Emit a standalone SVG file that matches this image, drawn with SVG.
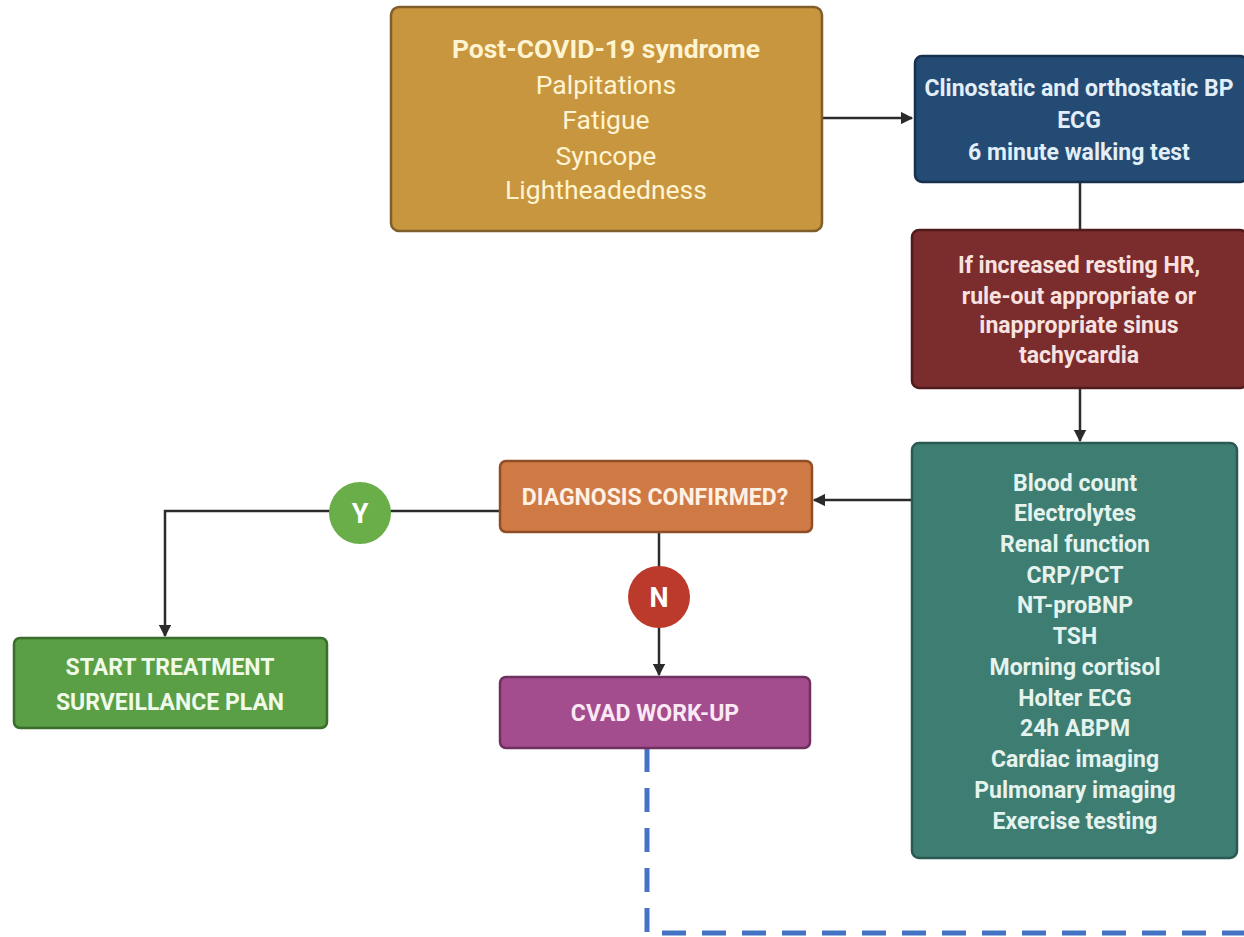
<svg xmlns="http://www.w3.org/2000/svg" width="1244" height="937" viewBox="0 0 1244 937">
<defs>
<marker id="ah" viewBox="0 0 10 10" refX="9" refY="5" markerWidth="5" markerHeight="5" orient="auto" markerUnits="strokeWidth">
<path d="M0,0 L10,5 L0,10 z" fill="#2b2b2b"/>
</marker>
<style>
.box{stroke-width:2.5}
.t{font-family:Roboto,"Liberation Sans",sans-serif;text-anchor:middle}
.b{font-weight:bold}
.conn{fill:none;stroke:#2b2b2b;stroke-width:2.5}
</style>
</defs>
<rect width="1244" height="937" fill="#ffffff"/>
<g id="connectors">
<path class="conn" d="M822,118 H912" marker-end="url(#ah)"/>
<path class="conn" d="M1080,182 V230"/>
<path class="conn" d="M1080,388 V441" marker-end="url(#ah)"/>
<path class="conn" d="M912,500 H814" marker-end="url(#ah)"/>
<path class="conn" d="M499,511 H165 V636" marker-end="url(#ah)"/>
<path class="conn" d="M659,532 V675" marker-end="url(#ah)"/>
<path d="M647,748 V933 H1244" fill="none" stroke="#4472C4" stroke-width="5" stroke-dasharray="24 16"/>
</g>
<g id="n-syndrome">
<rect class="box" x="391" y="7" width="431" height="224" rx="8" fill="#C8963E" stroke="#7E5F2C"/>
<text class="t" fill="#FFF4D2" font-size="26.5"><tspan class="b" x="606" y="57.5">Post-COVID-19 syndrome</tspan><tspan x="606" y="93.5">Palpitations</tspan><tspan x="606" y="128.5">Fatigue</tspan><tspan x="606" y="164.5">Syncope</tspan><tspan x="606" y="198.5">Lightheadedness</tspan></text>
</g>
<g id="n-tests">
<rect class="box" x="915" y="56" width="332" height="126" rx="7" fill="#244B74" stroke="#16304D"/>
<text class="t b" fill="#E2EEF8" font-size="23"><tspan x="1079" y="96">Clinostatic and orthostatic BP</tspan><tspan x="1079" y="128">ECG</tspan><tspan x="1079" y="160">6 minute walking test</tspan></text>
</g>
<g id="n-hr">
<rect class="box" x="912" y="230" width="335" height="158" rx="7" fill="#7B2C2C" stroke="#521B1B"/>
<text class="t b" fill="#F8E2E0" font-size="23"><tspan x="1079" y="273">If increased resting HR,</tspan><tspan x="1079" y="304">rule-out appropriate or</tspan><tspan x="1079" y="333">inappropriate sinus</tspan><tspan x="1079" y="363">tachycardia</tspan></text>
</g>
<g id="n-labs">
<rect class="box" x="912" y="443" width="325" height="415" rx="7" fill="#3E7D72" stroke="#2A5A51"/>
<text class="t b" fill="#E4F3EE" font-size="23"><tspan x="1075" y="490.5">Blood count</tspan><tspan x="1075" y="521">Electrolytes</tspan><tspan x="1075" y="552">Renal function</tspan><tspan x="1075" y="582.5">CRP/PCT</tspan><tspan x="1075" y="613">NT-proBNP</tspan><tspan x="1075" y="644">TSH</tspan><tspan x="1075" y="675">Morning cortisol</tspan><tspan x="1075" y="705.5">Holter ECG</tspan><tspan x="1075" y="736">24h ABPM</tspan><tspan x="1075" y="767">Cardiac imaging</tspan><tspan x="1075" y="797.5">Pulmonary imaging</tspan><tspan x="1075" y="828.5">Exercise testing</tspan></text>
</g>
<g id="n-diagnosis">
<rect class="box" x="500" y="461" width="312" height="71" rx="6" fill="#CF7A45" stroke="#8F4E25"/>
<text class="t b" x="655" y="505" fill="#FFF0E4" font-size="23">DIAGNOSIS CONFIRMED?</text>
</g>
<g id="n-yes">
<circle cx="360" cy="513" r="31" fill="#6AAE4A"/>
<text class="t b" x="360" y="523" fill="#FFFFFF" font-size="27">Y</text>
</g>
<g id="n-no">
<circle cx="659" cy="597" r="31" fill="#BC3A2C"/>
<text class="t b" x="659" y="607" fill="#FFFFFF" font-size="27">N</text>
</g>
<g id="n-treatment">
<rect class="box" x="14" y="638" width="313" height="90" rx="6" fill="#5A9E45" stroke="#3A6E2A"/>
<text class="t b" fill="#F0FAE8" font-size="23"><tspan x="170" y="675">START TREATMENT</tspan><tspan x="170" y="710">SURVEILLANCE PLAN</tspan></text>
</g>
<g id="n-cvad">
<rect class="box" x="500" y="677" width="310" height="71" rx="6" fill="#A44D8E" stroke="#703060"/>
<text class="t b" x="655" y="721" fill="#FBE8F5" font-size="23">CVAD WORK-UP</text>
</g>
</svg>
